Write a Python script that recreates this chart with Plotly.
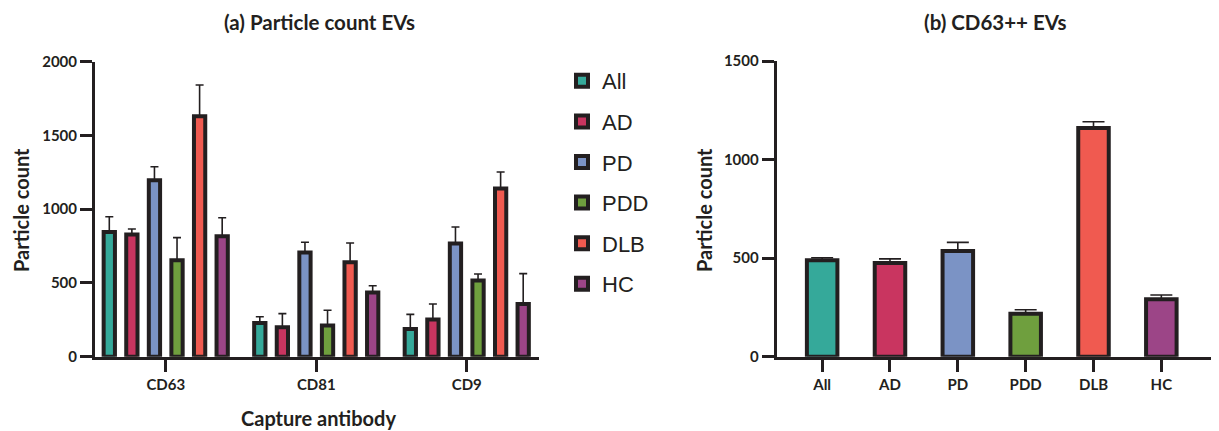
import plotly.graph_objects as go

groups = ["All", "AD", "PD", "PDD", "DLB", "HC"]
antibodies = ["CD63", "CD81", "CD9"]
colors = ["#35A99A", "#C93560", "#7B93C5", "#6F9F3E", "#F05A50", "#9C4587"]

# Panel (a): mean particle count per capture antibody, per group
means_a = {
    "All": [846, 229, 187],
    "AD":  [829, 200, 252],
    "PD":  [1197, 707, 768],
    "PDD": [654, 212, 517],
    "DLB": [1630, 641, 1140],
    "HC":  [817, 435, 357],
}
err_a = {
    "All": [103, 42, 100],
    "AD":  [37, 92, 105],
    "PD":  [91, 69, 111],
    "PDD": [153, 103, 44],
    "DLB": [212, 130, 112],
    "HC":  [125, 46, 206],
}

# Panel (b): CD63++ EVs
means_b = [489, 475, 536, 218, 1160, 291]
err_b = [13, 21, 44, 20, 32, 22]

INK = "#231F20"
fig = go.Figure()

for g, c in zip(groups, colors):
    fig.add_trace(go.Bar(
        x=antibodies, y=means_a[g], name=g, legendgroup=g,
        marker=dict(color=c, line=dict(color=INK, width=4)),
        error_y=dict(type="data", array=err_a[g], arrayminus=[0]*3, symmetric=False,
                     color=INK, thickness=1.6, width=4),
        xaxis="x", yaxis="y",
    ))

fig.add_trace(go.Bar(
    x=groups, y=means_b, showlegend=False,
    marker=dict(color=colors, line=dict(color=INK, width=4)),
    error_y=dict(type="data", array=err_b, arrayminus=[0]*6, symmetric=False,
                 color=INK, thickness=1.6, width=11),
    xaxis="x2", yaxis="y2",
))

H = 431.0
W = 1219.0
OFF = 8.0  # page offset of the figure (default body margin)
def fy(px):
    return (H - (px - OFF)) / H
def fx(px):
    return (px - OFF) / W

tickfont = dict(family="Lato", size=15, color=INK, weight="bold")
axis_common = dict(showline=True, linecolor=INK, linewidth=3, ticks="outside",
                   ticklen=12, tickwidth=3, tickcolor=INK, showgrid=False,
                   zeroline=False, tickfont=tickfont, fixedrange=True, automargin=False)

fig.update_layout(
    width=1219, height=431, autosize=False,
    margin=dict(l=0, r=0, t=0, b=0, pad=0, autoexpand=False),
    plot_bgcolor="white", paper_bgcolor="white",
    barmode="group", bargap=0.10, bargroupgap=0.5,
    showlegend=True,
    legend=dict(x=fx(562), y=fy(60), xanchor="left", yanchor="top",
                font=dict(family="Liberation Sans", size=22, color=INK),
                tracegroupgap=9, itemwidth=30, bgcolor="rgba(0,0,0,0)"),
    xaxis=dict(domain=[fx(95), fx(539)], range=[-0.47, 2.48], anchor="y", **axis_common),
    yaxis=dict(domain=[fy(356.7), fy(61.7)], range=[0, 2000], anchor="x",
               tickvals=[0, 500, 1000, 1500, 2000], **axis_common),
    xaxis2=dict(domain=[fx(776.7), fx(1219)], range=[-0.67, 5.85], anchor="y2", **axis_common),
    yaxis2=dict(domain=[fy(356.7), fy(61)], range=[0, 1500], anchor="x2",
                tickvals=[0, 500, 1000, 1500], **axis_common),
)

titlefont = dict(family="Lato", size=20.5, color=INK, weight="bold")
axtitlefont = dict(family="Lato", size=20, color=INK, weight="bold")
fig.add_annotation(text="(a) Particle count EVs", x=fx(319), y=fy(22), xref="paper", yref="paper",
                   showarrow=False, font=titlefont, xanchor="center", yanchor="middle")
fig.add_annotation(text="(b) CD63++ EVs", x=fx(995), y=fy(22), xref="paper", yref="paper",
                   showarrow=False, font=titlefont, xanchor="center", yanchor="middle")
fig.add_annotation(text="Capture antibody", x=fx(318), y=fy(418), xref="paper", yref="paper",
                   showarrow=False, font=axtitlefont, xanchor="center", yanchor="middle")
fig.add_annotation(text="Particle count", x=fx(21), y=fy(210), xref="paper", yref="paper",
                   showarrow=False, font=axtitlefont, textangle=-90, xanchor="center", yanchor="middle")
fig.add_annotation(text="Particle count", x=fx(704), y=fy(210), xref="paper", yref="paper",
                   showarrow=False, font=axtitlefont, textangle=-90, xanchor="center", yanchor="middle")

fig.write_html("out.html")
